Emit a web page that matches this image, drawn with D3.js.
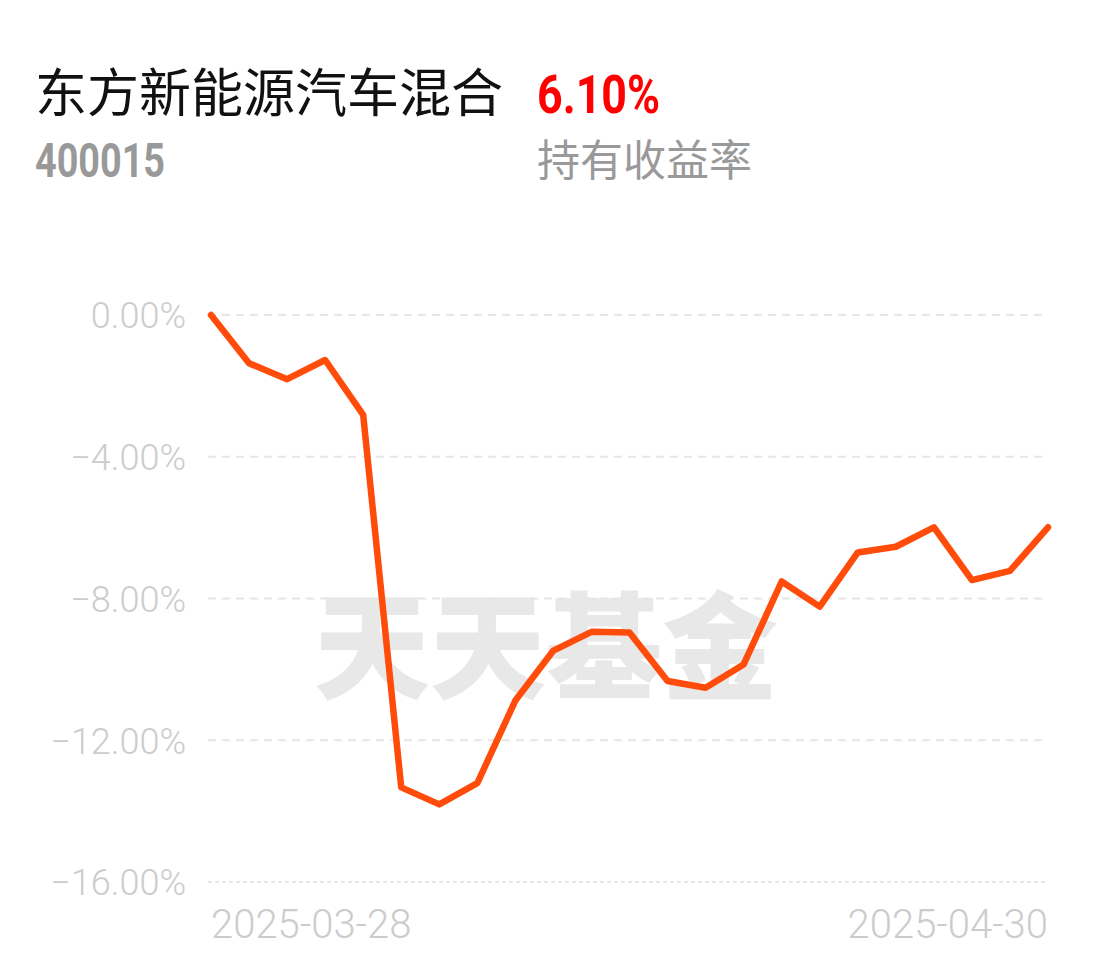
<!DOCTYPE html>
<html>
<head>
<meta charset="utf-8">
<script src="https://cdn.jsdelivr.net/npm/d3@7"></script>
<style>
  html, body { margin: 0; padding: 0; background: #fff; }
  svg { display: block; }
</style>
</head>
<body>
<div id="chart"></div>
<script>
const fundName = "东方新能源汽车混合";
const fundCode = "400015";
const holdReturn = "6.10%";
const holdReturnLabel = "持有收益率";
const watermark = "天天基金";

const dates = ["2025-03-28","2025-03-31","2025-04-01","2025-04-02","2025-04-03","2025-04-07","2025-04-08","2025-04-09","2025-04-10","2025-04-11","2025-04-14","2025-04-15","2025-04-16","2025-04-17","2025-04-18","2025-04-21","2025-04-22","2025-04-23","2025-04-24","2025-04-25","2025-04-28","2025-04-29","2025-04-30"];
const returns = [0.00,-1.36,-1.81,-1.27,-2.82,-13.33,-13.81,-13.21,-10.88,-9.47,-8.94,-8.96,-10.33,-10.52,-9.86,-7.52,-8.23,-6.70,-6.54,-5.99,-7.48,-7.22,-5.99];
const yTicks = [0,-4,-8,-12,-16];
const xTickLabels = ["2025-03-28","2025-04-30"];

const W = 1100, H = 967;
const svg = d3.select("#chart").append("svg").attr("width", W).attr("height", H);

const x = d3.scalePoint().domain(dates).range([211, 1048]);
const y = d3.scaleLinear().domain([-16, 0]).range([882, 315]);

// Header
svg.append("text").attr("x", 35).attr("y", 112)
  .attr("font-family", "'Noto Sans CJK SC', sans-serif").attr("font-size", 52)
  .attr("fill", "#111").text(fundName);
svg.append("text").attr("x", 537).attr("y", 113)
  .attr("font-family", "Roboto, sans-serif").attr("font-weight", 700).attr("font-size", 53)
  .attr("textLength", 123).attr("lengthAdjust", "spacingAndGlyphs")
  .attr("fill", "#ff0000").text(holdReturn);
svg.append("text").attr("x", 35).attr("y", 177)
  .attr("font-family", "Roboto, sans-serif").attr("font-weight", 700).attr("font-size", 48)
  .attr("textLength", 130).attr("lengthAdjust", "spacingAndGlyphs")
  .attr("fill", "#999").text(fundCode);
svg.append("text").attr("x", 537).attr("y", 176)
  .attr("font-family", "'Noto Sans CJK SC', sans-serif").attr("font-size", 43)
  .attr("fill", "#999").text(holdReturnLabel);

// Watermark
svg.append("text").attr("x", 546).attr("y", 690)
  .attr("text-anchor", "middle")
  .attr("font-family", "'Noto Sans CJK SC', sans-serif").attr("font-weight", 900).attr("font-size", 116)
  .attr("fill", "#e8e8e8").text(watermark);

// Gridlines
svg.append("g").selectAll("line").data(yTicks).join("line")
  .attr("x1", 208).attr("x2", 1048)
  .attr("y1", d => y(d)).attr("y2", d => y(d))
  .attr("stroke", "#e6e6e6").attr("stroke-width", 2)
  .attr("stroke-dasharray", d => d === -16 ? "4,3" : "8,6");

// Y axis
const yAxis = svg.append("g").attr("transform", "translate(211,0)")
  .call(d3.axisLeft(y).tickValues(yTicks).tickSize(0).tickPadding(25)
    .tickFormat(d => d3.format(".2f")(d) + "%"));
yAxis.select(".domain").remove();
yAxis.selectAll("text")
  .attr("font-family", "Roboto, sans-serif").attr("font-weight", 300).attr("font-size", 36)
  .attr("fill", "#cccccc").attr("dy", "0.355em");

// X labels
svg.append("g").selectAll("text").data(xTickLabels).join("text")
  .attr("x", d => x(d)).attr("y", 938)
  .attr("text-anchor", (d, i) => i === 0 ? "start" : "end")
  .attr("font-family", "Roboto, sans-serif").attr("font-weight", 300).attr("font-size", 40)
  .attr("fill", "#cccccc").text(d => d);

// Line
const line = d3.line().x((d, i) => x(dates[i])).y(d => y(d));
svg.append("path").datum(returns)
  .attr("d", line).attr("fill", "none")
  .attr("stroke", "#ff4c0a").attr("stroke-width", 6.5)
  .attr("stroke-linejoin", "round").attr("stroke-linecap", "round");
</script>
</body>
</html>
